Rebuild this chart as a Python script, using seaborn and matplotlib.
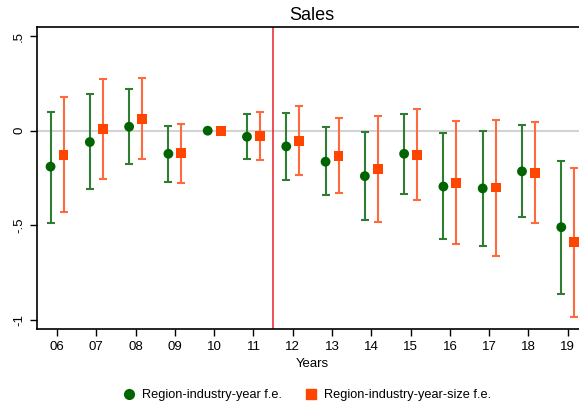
import numpy as np
import pandas as pd
import matplotlib
matplotlib.use("Agg")
import matplotlib.pyplot as plt
import seaborn as sns
from matplotlib.lines import Line2D

years = ["06", "07", "08", "09", "10", "11", "12", "13", "14", "15", "16", "17", "18", "19"]

ry_coef = [-0.19, -0.06, 0.021, -0.122, 0.0, -0.032, -0.083, -0.164, -0.24, -0.122, -0.295, -0.305, -0.215, -0.51]
ry_lo   = [-0.49, -0.31, -0.178, -0.27, 0.0, -0.15, -0.26, -0.342, -0.474, -0.333, -0.575, -0.607, -0.457, -0.861]
ry_hi   = [0.10, 0.196, 0.222, 0.026, 0.0, 0.086, 0.092, 0.017, -0.005, 0.088, -0.014, -0.004, 0.03, -0.162]

rs_coef = [-0.127, 0.01, 0.063, -0.12, 0.0, -0.026, -0.053, -0.134, -0.203, -0.127, -0.277, -0.30, -0.222, -0.589]
rs_lo   = [-0.43, -0.254, -0.148, -0.279, 0.0, -0.153, -0.233, -0.33, -0.48, -0.367, -0.60, -0.661, -0.49, -0.982]
rs_hi   = [0.178, 0.275, 0.277, 0.037, 0.0, 0.099, 0.129, 0.065, 0.076, 0.115, 0.049, 0.058, 0.046, -0.199]

series_names = ["Region-industry-year f.e.", "Region-industry-year-size f.e."]
event_line = 5.5

plt.rcParams['font.family'] = ['Liberation Sans', 'DejaVu Sans']

green_m = "#006400"
green_e = "#2F7D32"
orange_m = "#FF4500"
orange_e = "#FF6A3D"
off = 0.165

pos = np.arange(len(years))
df = pd.DataFrame({
    "x": np.concatenate([pos - off, pos + off]),
    "coef": ry_coef + rs_coef,
    "lo": ry_lo + rs_lo,
    "hi": ry_hi + rs_hi,
    "series": [series_names[0]] * len(years) + [series_names[1]] * len(years),
})

fig = plt.figure(figsize=(5.79, 4.08), dpi=100)
ax = fig.add_axes([37/579, 1 - 329/408, 550/579, 302/408])

ax.axhline(0, color="#D3D3D3", lw=1.5, zorder=0)
ax.axvline(event_line, color="#E8202A", lw=1.1, zorder=1)

for name, ecol in zip(series_names, [green_e, orange_e]):
    d = df[(df.series == name) & (df.hi != df.lo)]
    ax.errorbar(d.x, d.coef, yerr=[d.coef - d.lo, d.hi - d.coef], fmt="none",
                ecolor=ecol, elinewidth=1.5, capsize=3, capthick=1.5, zorder=2)

sns.scatterplot(data=df, x="x", y="coef", hue="series", style="series",
                palette=[green_m, orange_m], markers=["o", "s"],
                s=50, edgecolor="none", linewidth=0, ax=ax, zorder=3, legend=False)

ax.set_xlim(-0.51, 13.49)
ax.set_ylim(-1.048, 0.548)
ax.set_xticks(pos)
ax.set_xticklabels(years, fontsize=9.5)
ax.set_yticks([0.5, 0, -0.5, -1])
ax.set_yticklabels([".5", "0", "-.5", "-1"], rotation=90, va="center", fontsize=9.5)
ax.tick_params(axis="both", direction="out", length=5, width=1, color="black", pad=3.5)
ax.set_xlabel("Years", fontsize=9.5, labelpad=4)
ax.set_ylabel("")
ax.set_title("Sales", fontsize=13, pad=5)
for sp in ax.spines.values():
    sp.set_color("black")
    sp.set_linewidth(1.2)

handles = [
    Line2D([], [], marker="o", color=green_m, linestyle="none", markersize=7),
    Line2D([], [], marker="s", color=orange_m, linestyle="none", markersize=7),
]
fig.legend(handles, series_names, loc="center", bbox_to_anchor=(307/579, 1 - 395/408),
           ncol=2, frameon=False, fontsize=9.2, handletextpad=0.5, columnspacing=1.75,
           handlelength=1.0)

fig.savefig("out.png", dpi=100, facecolor="white")
